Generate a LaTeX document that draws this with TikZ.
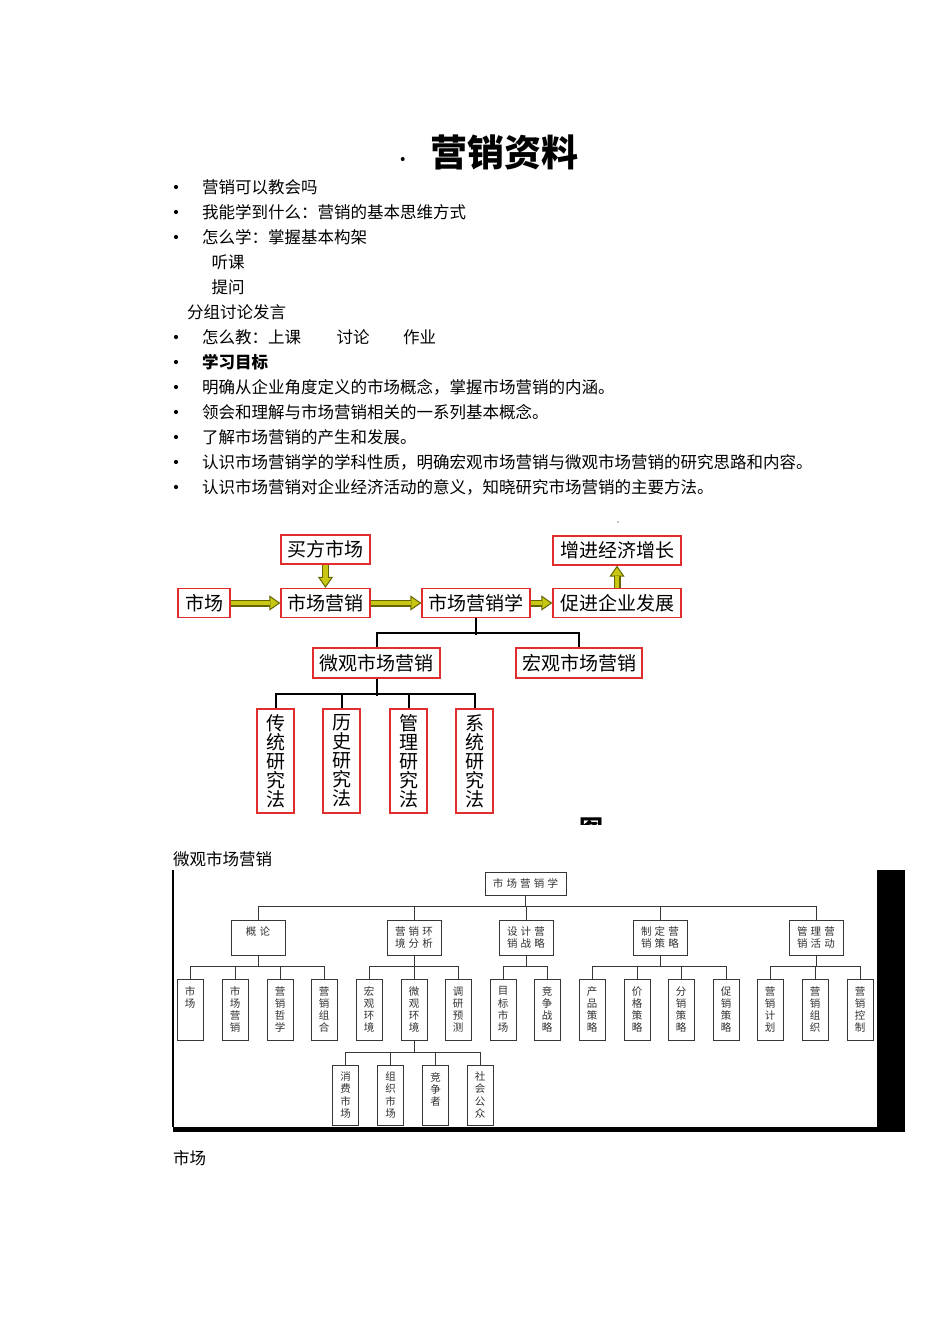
\documentclass[tikz,border=0pt]{standalone}
\usepackage{fontspec}
\setmainfont{Noto Sans CJK SC}
\newfontfamily\cjksp{Noto Sans CJK SC}[LetterSpace=30]
\usetikzlibrary{arrows.meta}
\definecolor{boxred}{RGB}{225,45,45}
\definecolor{arrfill}{RGB}{200,200,20}
\definecolor{arrline}{RGB}{100,100,0}
\definecolor{orgline}{RGB}{55,55,55}
\definecolor{orgtext}{RGB}{50,50,50}
\tikzset{
  body/.style={anchor=west, inner sep=0pt, font=\fontsize{16.5}{18}\selectfont},
  rbox/.style={draw=boxred, line width=1.3pt, fill=white, inner sep=0pt, minimum height=29pt, font=\fontsize{19}{20}\selectfont},
  vbox/.style={draw=boxred, line width=1.3pt, fill=white, inner sep=0pt, minimum width=37pt, minimum height=104pt, align=center, font=\fontsize{19}{19}\selectfont},
  tree/.style={draw=black, line width=2pt},
  fatarrow/.style={line width=7pt, draw=arrline, -{Triangle[length=11pt,width=15pt,fill=arrfill,line width=1pt]}},
  fatinner/.style={line width=4.4pt, draw=arrfill, shorten >=10pt},
  oline/.style={draw=orgline, line width=0.9pt},
  obox/.style={draw=orgline, line width=0.9pt, fill=white, inner sep=0pt, align=center, text=orgtext, font=\cjksp\fontsize{10.5}{12.2}\selectfont},
  oroot/.style={obox, minimum width=81pt, minimum height=23pt},
  otwo/.style={obox, minimum width=54pt, minimum height=35pt},
  othree/.style={obox, minimum width=26pt, minimum height=61pt},
  ofour/.style={obox, minimum width=26pt, minimum height=60pt},
  bullet/.style={circle, fill=black, inner sep=0pt, minimum size=4.2pt}
}
\begin{document}
\begin{tikzpicture}[x=1pt, y=-1pt]
\useasboundingbox (0,0) rectangle (950,1344);
\fill[white] (0,0) rectangle (950,1344);

% ---------- title ----------
\node[inner sep=0pt, font=\bfseries\fontsize{37}{40}\selectfont] (title) at (504,152) {营销资料};
\node[bullet, minimum size=4pt] (tdot) at (402.7,159) {};

% ---------- bullet list ----------
\foreach \yy in {187,212,237,337,362,387,412,437,462,487}
  \node[bullet] at (176,\yy) {};
\node[body] (l1) at (202,187.5) {营销可以教会吗};
\node[body] (l2) at (202,212.5) {我能学到什么：营销的基本思维方式};
\node[body] (l3) at (202,237) {怎么学：掌握基本构架};
\node[body] (l4) at (211.5,262) {听课};
\node[body] (l5) at (211.5,287) {提问};
\node[body] (l6) at (187,312) {分组讨论发言};
\node[body] (l7a) at (202,337) {怎么教：上课};
\node[body] (l7b) at (336.5,337) {讨论};
\node[body] (l7c) at (403,337) {作业};
\node[body, font=\bfseries\fontsize{16.5}{18}\selectfont] (l8) at (202,362) {学习目标};
\node[body] (l9) at (202,387) {明确从企业角度定义的市场概念，掌握市场营销的内涵。};
\node[body] (l10) at (202,412) {领会和理解与市场营销相关的一系列基本概念。};
\node[body] (l11) at (202,437) {了解市场营销的产生和发展。};
\node[body] (l12) at (202,462) {认识市场营销学的学科性质，明确宏观市场营销与微观市场营销的研究思路和内容。};
\node[body] (l13) at (202,487) {认识市场营销对企业经济活动的意义，知晓研究市场营销的主要方法。};

% ---------- diagram 1 ----------
\node[rbox, minimum width=52pt]  (sc)   at (204,603)   {市场};
\node[rbox, minimum width=89pt]  (mf)   at (325.5,549.5) {买方市场};
\node[rbox, minimum width=89pt]  (mm)   at (325.5,603) {市场营销};
\node[rbox, minimum width=108pt] (mmx)  at (476,603)   {市场营销学};
\node[rbox, minimum width=128pt] (cj)   at (617,603)   {促进企业发展};
\node[rbox, minimum width=128pt] (zj)   at (617,550.5) {增进经济增长};
\node[rbox, minimum width=127pt, minimum height=30pt] (micro) at (376.5,663) {微观市场营销};
\node[rbox, minimum width=126pt, minimum height=30pt] (macro) at (579,663) {宏观市场营销};
\node[vbox] (v1) at (275.5,761) {传\\统\\研\\究\\法};
\node[vbox] (v2) at (341.5,761) {历\\史\\研\\究\\法};
\node[vbox] (v3) at (408.5,761) {管\\理\\研\\究\\法};
\node[vbox] (v4) at (474.5,761) {系\\统\\研\\究\\法};

\foreach \a/\b in {sc.east/mm.west, mm.east/mmx.west, mmx.east/cj.west, mf.south/mm.north, cj.north/zj.south}{
  \draw[fatarrow] (\a) -- (\b);
  \draw[fatinner] (\a) -- (\b);
}

\draw[tree] (mmx.south) -- ++(0,17);
\draw[tree] (micro.north) -- ++(0,-14) -| (macro.north);
\draw[tree] (micro.south) -- ++(0,17);
\draw[tree] (v1.north) -- ++(0,-14) -| (v4.north);
\draw[tree] (v2.north) -- ++(0,-14);
\draw[tree] (v3.north) -- ++(0,-14);

% small artefacts
\fill (618,522) circle (0.6);
\begin{scope}
  \clip (575,815) rectangle (610,824);
  \node[inner sep=0pt, font=\bfseries\fontsize{24}{24}\selectfont] (tu) at (591,829) {图};
\end{scope}

% ---------- label ----------
\node[body] (lbmicro) at (173,859) {微观市场营销};

% ---------- org chart frame ----------
\draw[black, line width=1.2pt] (173,870) -- (173,1127);
\fill[black] (876.5,870) rectangle (905,1131.5);
\fill[black] (173,1127) rectangle (905,1131.5);

% ---------- org chart ----------
\node[oroot] (r) at (525.5,883.5) {市场营销学};

\node[otwo] (a1) at (258,937.5) {概论\\\mbox{}};
\node[otwo] (a2) at (414,937.5) {营销环\\境分析};
\node[otwo] (a3) at (526,937.5) {设计营\\销战略};
\node[otwo] (a4) at (660,937.5) {制定营\\销策略};
\node[otwo] (a5) at (816,937.5) {管理营\\销活动};

\node[othree] (b1)  at (190,1009.5) {市\\场\\\mbox{}\\\mbox{}};
\node[othree] (b2)  at (235,1009.5) {市\\场\\营\\销};
\node[othree] (b3)  at (280,1009.5) {营\\销\\哲\\学};
\node[othree] (b4)  at (324,1009.5) {营\\销\\组\\合};
\node[othree] (b5)  at (369,1009.5) {宏\\观\\环\\境};
\node[othree] (b6)  at (414,1009.5) {微\\观\\环\\境};
\node[othree] (b7)  at (458,1009.5) {调\\研\\预\\测};
\node[othree] (b8)  at (503,1009.5) {目\\标\\市\\场};
\node[othree] (b9)  at (547,1009.5) {竞\\争\\战\\略};
\node[othree] (b10) at (592,1009.5) {产\\品\\策\\略};
\node[othree] (b11) at (637,1009.5) {价\\格\\策\\略};
\node[othree] (b12) at (681,1009.5) {分\\销\\策\\略};
\node[othree] (b13) at (726,1009.5) {促\\销\\策\\略};
\node[othree] (b14) at (770,1009.5) {营\\销\\计\\划};
\node[othree] (b15) at (815,1009.5) {营\\销\\组\\织};
\node[othree] (b16) at (860,1009.5) {营\\销\\控\\制};

\node[ofour] (c1) at (345.5,1095) {消\\费\\市\\场};
\node[ofour] (c2) at (390.5,1095) {组\\织\\市\\场};
\node[ofour] (c3) at (435.5,1095) {竞\\争\\者\\\mbox{}};
\node[ofour] (c4) at (480,1095)   {社\\会\\公\\众};

% root -> level 2
\draw[oline] (r.south) -- ++(0,12);
\draw[oline] (a1.north) -- ++(0,-13) -| (a5.north);
\foreach \n in {a2,a3,a4} \draw[oline] (\n.north) -- ++(0,-13);

% level 2 -> level 3
\foreach \p/\f/\l in {a1/b1/b4, a2/b5/b7, a3/b8/b9, a4/b10/b13, a5/b14/b16}{
  \draw[oline] (\p.south) -- ++(0,12);
  \draw[oline] (\f.north) -- ++(0,-12) -| (\l.north);
}
\foreach \n in {b2,b3,b6,b11,b12,b15} \draw[oline] (\n.north) -- ++(0,-12);

% level 3 -> level 4
\draw[oline] (b6.south) -- ++(0,12.5);
\draw[oline] (c1.north) -- ++(0,-12.5) -| (c4.north);
\foreach \n in {c2,c3} \draw[oline] (\n.north) -- ++(0,-12.5);

% ---------- bottom label ----------
\node[body] (lbmkt) at (173,1158) {市场};
\end{tikzpicture}
\end{document}
